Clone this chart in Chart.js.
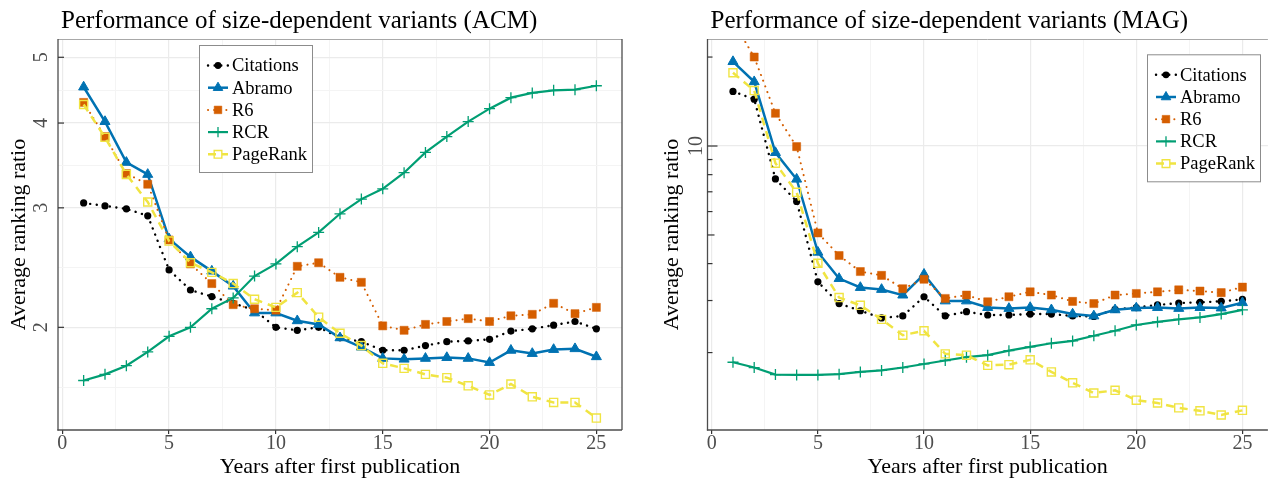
<!DOCTYPE html>
<html><head><meta charset="utf-8">
<script src="https://cdn.jsdelivr.net/npm/chart.js@4.4.1/dist/chart.umd.min.js"></script>
<style>
html,body{margin:0;padding:0;background:#fff;overflow:hidden;width:1270px;height:482px;}
#c1{position:absolute;left:0;top:0;}
#c2{position:absolute;left:635px;top:0;}
</style></head><body>
<canvas id="c1" width="635" height="482"></canvas>
<canvas id="c2" width="640" height="482"></canvas>
<script>
// ---------------- DATA ----------------
const years = [1,2,3,4,5,6,7,8,9,10,11,12,13,14,15,16,17,18,19,20,21,22,23,24,25];
const seriesNames = ['Citations','Abramo','R6','RCR','PageRank'];

const acmCitations = [3.05,3.02,2.99,2.92,2.43,2.27,2.22,2.17,2.12,2.00,1.98,2.00,1.93,1.905,1.85,1.85,1.88,1.905,1.91,1.92,1.975,1.99,2.015,2.04,1.99];
const acmAbramo    = [4.52,4.02,3.50,3.36,2.70,2.54,2.42,2.30,2.10,2.10,2.045,2.02,1.93,1.87,1.80,1.795,1.80,1.805,1.80,1.775,1.85,1.83,1.855,1.86,1.81];
const acmR6        = [4.29,3.82,3.37,3.25,2.69,2.48,2.32,2.16,2.13,2.12,2.46,2.49,2.37,2.33,2.01,1.98,2.02,2.04,2.06,2.04,2.08,2.09,2.17,2.095,2.14];
const acmRCR       = [1.67,1.705,1.756,1.84,1.94,2.00,2.13,2.21,2.38,2.48,2.63,2.76,2.94,3.09,3.20,3.38,3.62,3.82,4.02,4.20,4.36,4.43,4.47,4.48,4.54];
const acmPageRank  = [4.26,3.81,3.36,3.06,2.68,2.49,2.41,2.32,2.20,2.14,2.25,2.07,1.96,1.88,1.77,1.74,1.705,1.686,1.64,1.59,1.65,1.58,1.55,1.55,1.47];

const magCitations = [15.3,14.4,7.74,6.49,3.47,2.93,2.77,2.62,2.66,3.09,2.66,2.75,2.68,2.68,2.70,2.70,2.66,2.65,2.80,2.84,2.90,2.94,2.96,2.98,3.03];
const magAbramo    = [19.3,16.5,9.5,7.72,4.37,3.56,3.32,3.27,3.13,3.68,2.99,2.99,2.84,2.82,2.84,2.79,2.70,2.66,2.79,2.83,2.84,2.82,2.84,2.83,2.95];
const magR6        = [26.5,20.0,12.9,9.95,5.08,4.26,3.76,3.65,3.29,3.54,3.05,3.13,2.97,3.09,3.21,3.13,2.98,2.93,3.13,3.17,3.21,3.26,3.23,3.19,3.33];
const magRCR       = [1.855,1.78,1.685,1.68,1.68,1.69,1.72,1.74,1.78,1.83,1.88,1.93,1.96,2.03,2.09,2.15,2.19,2.28,2.37,2.48,2.54,2.59,2.63,2.70,2.79];
const magPageRank  = [17.7,15.4,8.75,6.97,4.01,3.07,2.89,2.59,2.29,2.37,1.98,1.96,1.81,1.82,1.89,1.72,1.58,1.46,1.49,1.38,1.35,1.30,1.27,1.23,1.275];

const xMajorTicks = [0,5,10,15,20,25];
const xMinorTicks = [2.5,7.5,12.5,17.5,22.5];
const acmYTicks = [2,3,4,5];
const acmYMinorTicks = [1.633,2.449,3.464,4.472];
const magYTicks = [2,3,4,5,6,7,8,9,10,20];
const magYLabelled = [10];

const titleACM = 'Performance of size-dependent variants (ACM)';
const titleMAG = 'Performance of size-dependent variants (MAG)';
const xTitle = 'Years after first publication';
const yTitle = 'Average ranking ratio';

// ---------------- STYLE ----------------
const FONT = "'Liberation Serif','Times New Roman',serif";
const STYLE = {
  Citations: {borderColor:'#000000', borderWidth:2.4, borderDash:[0.1,6.5], borderCapStyle:'round',
              pointStyle:'circle', pointRadius:3.6, pointBackgroundColor:'#000000', pointBorderColor:'#000000', pointBorderWidth:0},
  Abramo:    {borderColor:'#0072B2', borderWidth:2.5, pointStyle:'triangle', pointRadius:5.8,
              pointBackgroundColor:'#0072B2', pointBorderColor:'#0072B2', pointBorderWidth:1},
  R6:        {borderColor:'#D55E00', borderWidth:2, borderDash:[0.1,6], borderCapStyle:'round',
              pointStyle:'rect', pointRadius:5.7, pointBackgroundColor:'#D55E00', pointBorderColor:'#D55E00', pointBorderWidth:0.5},
  RCR:       {borderColor:'#009E73', borderWidth:2.2, pointStyle:'cross', pointRadius:5.5,
              pointBackgroundColor:'#009E73', pointBorderColor:'#009E73', pointBorderWidth:1.3},
  PageRank:  {borderColor:'#F0E442', borderWidth:2.5, borderDash:[8,6], pointStyle:'rect', pointRadius:5.7,
              pointBackgroundColor:'rgba(0,0,0,0)', pointBorderColor:'#F0E442', pointBorderWidth:1.4}
};

function buildDatasets(valuesList) {
  return seriesNames.map((name, i) => Object.assign({
    label: name,
    data: years.map((x, j) => ({x: x, y: valuesList[i][j]})),
    order: seriesNames.length - 1 - i,
    fill: false, tension: 0
  }, STYLE[name]));
}

function line(ctx, x1, y1, x2, y2) { ctx.beginPath(); ctx.moveTo(x1, y1); ctx.lineTo(x2, y2); ctx.stroke(); }

function panelPlugin(conf) {
  return {
    id: 'panel_' + conf.key,
    afterDraw(chart) {
      const ctx = chart.ctx, a = chart.chartArea, ys = chart.scales.y;
      ctx.save();
      ctx.setLineDash([]);
      ctx.strokeStyle = '#A8A8A8'; ctx.lineWidth = 1;
      line(ctx, a.left, a.top + 0.5, a.right, a.top + 0.5);
      ctx.strokeStyle = '#4D4D4D'; ctx.lineWidth = 1.3;
      if (conf.rightBorder) line(ctx, a.right, a.top, a.right, a.bottom);
      line(ctx, a.left, a.top, a.left, a.bottom + 0.6);
      line(ctx, a.left - 0.6, a.bottom, a.right, a.bottom);
      ctx.strokeStyle = '#333333'; ctx.lineWidth = 1.2;
      conf.yTicks.forEach(t => {
        const py = ys.getPixelForValue(t.v);
        line(ctx, a.left, py, a.left + t.len, py);
      });
      ctx.fillStyle = '#000'; ctx.font = '25px ' + FONT; ctx.textAlign = 'left'; ctx.textBaseline = 'alphabetic';
      ctx.fillText(conf.title, a.left + conf.titleDx, conf.titleY);
      const bx = a.left + conf.legendDx, by = a.top + conf.legendDy, bw = 113, bh = 127;
      ctx.fillStyle = '#ffffff'; ctx.fillRect(bx, by, bw, bh);
      ctx.strokeStyle = '#8C8C8C'; ctx.lineWidth = 1;
      ctx.strokeRect(bx + 0.5, by + 0.5, bw, bh);
      chart.data.datasets.forEach((ds, i) => {
        const cy = by + 20.5 + i * 22.2;
        ctx.save();
        ctx.strokeStyle = ds.borderColor; ctx.lineWidth = ds.borderWidth;
        ctx.setLineDash(ds.borderDash || []); ctx.lineCap = ds.borderCapStyle || 'butt';
        line(ctx, bx + 9, cy, bx + 29, cy);
        ctx.restore();
        ctx.save();
        ctx.setLineDash([]);
        ctx.fillStyle = ds.pointBackgroundColor; ctx.strokeStyle = ds.pointBorderColor; ctx.lineWidth = ds.pointBorderWidth;
        Chart.helpers.drawPoint(ctx, {pointStyle: ds.pointStyle, radius: ds.pointRadius * 0.95, borderWidth: ds.pointBorderWidth, rotation: 0}, bx + 19, cy);
        ctx.restore();
        ctx.fillStyle = '#000'; ctx.font = '18.5px ' + FONT; ctx.textAlign = 'left'; ctx.textBaseline = 'middle';
        ctx.fillText(ds.label, bx + 33, cy + 1);
      });
      ctx.restore();
    }
  };
}

function xScale() {
  return {
    type: 'linear', min: -0.2, max: 26.2,
    afterBuildTicks: s => { s.ticks = xMajorTicks.concat(xMinorTicks).sort((p, q) => p - q).map(v => ({value: v})); },
    afterFit: s => { s.height = 52; },
    ticks: {autoSkip: false, maxRotation: 0, minRotation: 0, padding: 0, color: '#4D4D4D',
            font: {family: FONT, size: 20, lineHeight: 1},
            callback: v => xMajorTicks.includes(v) ? String(v) : ''},
    grid: {
      color: c => (c.tick && xMajorTicks.includes(c.tick.value)) ? '#EBEBEB' : '#F4F4F4',
      lineWidth: c => (c.tick && xMajorTicks.includes(c.tick.value)) ? 1.2 : 1,
      tickColor: c => (c.tick && xMajorTicks.includes(c.tick.value)) ? '#333333' : 'rgba(0,0,0,0)',
      tickLength: 4, tickWidth: 1.2, drawTicks: true
    },
    border: {display: false},
    title: {display: true, text: xTitle, color: '#000', font: {family: FONT, size: 22, lineHeight: 1.2}, padding: {top: 0, bottom: 2}}
  };
}

Chart.defaults.animation = false;

new Chart(document.getElementById('c1'), {
  type: 'line',
  data: {datasets: buildDatasets([acmCitations, acmAbramo, acmR6, acmRCR, acmPageRank])},
  options: {
    responsive: false, animation: false,
    layout: {padding: {top: 39, left: 3, right: 13, bottom: 0}},
    plugins: {legend: {display: false}, tooltip: {enabled: false}, title: {display: false}},
    scales: {
      x: xScale(),
      y: {
        type: 'logarithmic', min: 1.4117, max: 5.32,
        afterBuildTicks: s => { s.ticks = acmYTicks.concat(acmYMinorTicks).sort((p, q) => p - q).map(v => ({value: v})); },
        afterFit: s => { s.width = 55; },
        ticks: {autoSkip: false, minRotation: 90, maxRotation: 90, crossAlign: 'center', padding: 11, color: '#4D4D4D',
                font: {family: FONT, size: 20, lineHeight: 1},
                callback: v => acmYTicks.includes(v) ? String(v) : ''},
        grid: {
          drawTicks: false,
          color: c => (c.tick && acmYTicks.includes(c.tick.value)) ? '#EBEBEB' : '#F4F4F4',
          lineWidth: c => (c.tick && acmYTicks.includes(c.tick.value)) ? 1.2 : 1
        },
        border: {display: false},
        title: {display: true, text: yTitle, color: '#000', font: {family: FONT, size: 22, lineHeight: 1.2}, padding: {top: 3, bottom: 0}}
      }
    }
  },
  plugins: [panelPlugin({key: 'acm', title: titleACM, titleDx: 3, titleY: 28, rightBorder: true,
    legendDx: 141, legendDy: 6, yTicks: acmYTicks.map(v => ({v: v, len: 6}))})]
});

new Chart(document.getElementById('c2'), {
  type: 'line',
  data: {datasets: buildDatasets([magCitations, magAbramo, magR6, magRCR, magPageRank])},
  options: {
    responsive: false, animation: false,
    layout: {padding: {top: 39, left: 21, right: 3, bottom: 0}},
    plugins: {legend: {display: false}, tooltip: {enabled: false}, title: {display: false}},
    scales: {
      x: xScale(),
      y: {
        type: 'logarithmic', min: 1.094, max: 23.02,
        afterBuildTicks: s => { s.ticks = magYTicks.map(v => ({value: v})); },
        afterFit: s => { s.width = 51.5; },
        ticks: {autoSkip: false, minRotation: 90, maxRotation: 90, crossAlign: 'center', padding: 1, color: '#4D4D4D',
                font: {family: FONT, size: 20, lineHeight: 1},
                callback: v => magYLabelled.includes(v) ? String(v) : ''},
        grid: {
          drawTicks: false,
          color: c => (c.tick && magYLabelled.includes(c.tick.value)) ? '#EBEBEB' : 'rgba(0,0,0,0)',
          lineWidth: 1.2
        },
        border: {display: false},
        title: {display: true, text: yTitle, color: '#000', font: {family: FONT, size: 22, lineHeight: 1.2}, padding: {top: 3, bottom: 0}}
      }
    }
  },
  plugins: [panelPlugin({key: 'mag', title: titleMAG, titleDx: 3, titleY: 28, rightBorder: false,
    legendDx: 439.5, legendDy: 15.3,
    yTicks: magYTicks.map(v => ({v: v, len: v === 10 ? 10 : (v === 5 ? 7 : 5)}))})]
});
</script></body></html>
